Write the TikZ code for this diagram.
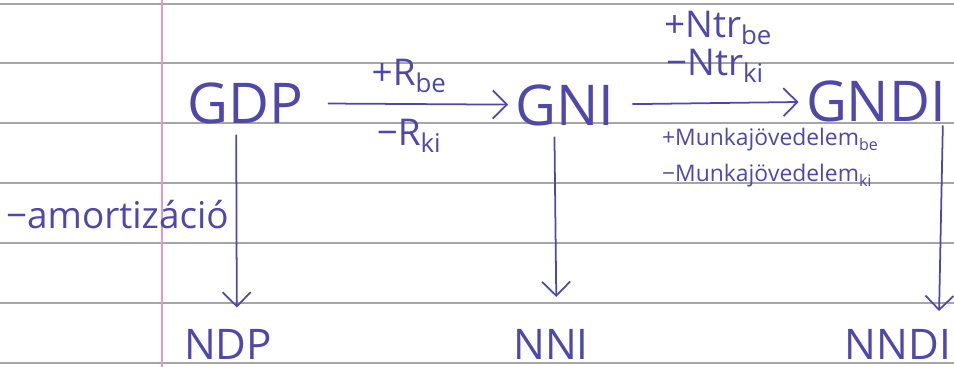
\documentclass[tikz,border=0pt]{standalone}
\usepackage{fontspec}
\setmainfont{Open Sans}
\usepackage{tikz}
\usetikzlibrary{arrows.meta}
\usetikzlibrary{positioning}
\definecolor{ink}{RGB}{80,72,168}
\definecolor{rulegray}{RGB}{165,165,170}
\definecolor{marginpink}{RGB}{228,150,205}
\tikzset{aggr/.style={font=\fontsize{32}{34}\selectfont,inner sep=2pt},
  netaggr/.style={font=\fontsize{24}{26}\selectfont,inner sep=2pt},
  note/.style={font=\fontsize{21}{23}\selectfont,inner sep=1pt},
  smallnote/.style={font=\fontsize{13}{15}\selectfont,inner sep=1pt},
  arr/.style={-{Straight Barb[length=8pt,width=16pt]},line width=1pt}}

\begin{document}
\begin{tikzpicture}[x=0.02cm,y=-0.02cm,line join=round,ink]
% --- ruled paper
\useasboundingbox (0,0) rectangle (954,367);
\fill[white] (0,0) rectangle (954,367);
\foreach \y in {4,63,123,183,243,303,363} \draw[rulegray,line width=0.6pt] (0,\y) -- (954,\y);
\draw[marginpink,line width=0.8pt] (162,0) -- (162,367);
% --- gross aggregates
\node[aggr] (gdp) at (245,103) {GDP};
\node[aggr] (gni) at (565,105) {GNI};
\node[aggr] (gndi) at (876,101) {GNDI};
% --- net aggregates
\node[netaggr] (ndp) at (228,344) {NDP};
\node[netaggr] (nni) at (551,344) {NNI};
\node[netaggr] (nndi) at (898,344) {NNDI};
% --- horizontal steps
\draw[arr,shorten <=12pt,shorten >=2pt] (gdp) -- node[note,above=5pt] (rbe) {+R\textsubscript{be}} node[note,below=7pt] (rki) {−R\textsubscript{ki}} (gni);
\draw[arr,shorten <=8pt,shorten >=2pt] (gni) -- (gndi);
\node[note,anchor=west] (ntrbe) at (662,28) {+Ntr\textsubscript{be}};
\node[note,anchor=west] (ntrki) at (664,66) {−Ntr\textsubscript{ki}};
\node[smallnote,anchor=west] (mbe) at (660,140) {+Munkajövedelem\textsubscript{be}};
\node[smallnote,anchor=west] (mki) at (660,176) {−Munkajövedelem\textsubscript{ki}};
% --- vertical steps
\draw[arr] ([xshift=-5pt,yshift=-4pt]gdp.south) -- ([xshift=5pt,yshift=10pt]ndp.north);
\draw[arr] ([xshift=-6pt,yshift=-4pt]gni.south) -- ([xshift=3pt,yshift=16pt]nni.north);
\draw[arr] ([xshift=-4pt]gndi.south east) -- ([xshift=-9pt,yshift=8pt]nndi.north east);
\node[note,anchor=west] (amort) at (4,215) {−amortizáció};
\end{tikzpicture}
\end{document}
